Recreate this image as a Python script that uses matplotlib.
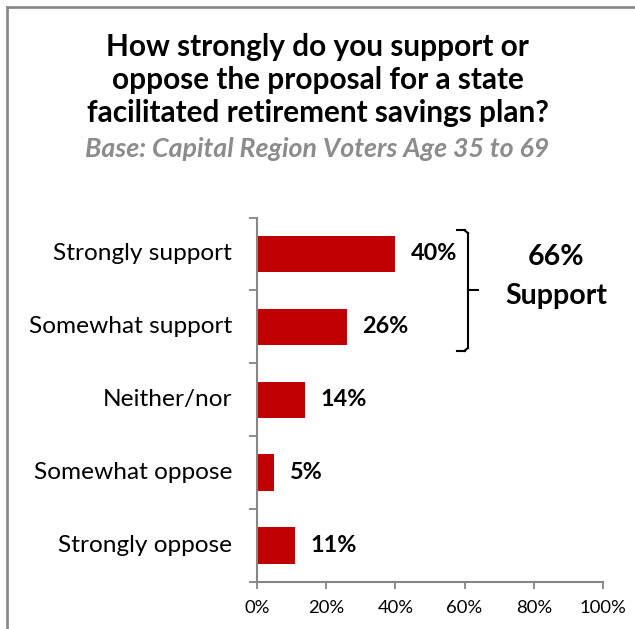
import matplotlib
matplotlib.use("Agg")
import matplotlib.pyplot as plt
from matplotlib.lines import Line2D

CATEGORIES = ["Strongly support", "Somewhat support", "Neither/nor",
              "Somewhat oppose", "Strongly oppose"]
VALUES = [40, 26, 14, 5, 11]
SUPPORT_TOTAL = VALUES[0] + VALUES[1]
X_TICKS = [0, 20, 40, 60, 80, 100]

TITLE = "How strongly do you support or\noppose the proposal for a state\nfacilitated retirement savings plan?"
SUBTITLE = "Base: Capital Region Voters Age 35 to 69"

BAR_COLOR = "#C00000"
AXIS_COLOR = "#868686"
FONT = "Lato"

plt.rcParams["font.family"] = [FONT, "DejaVu Sans"]

fig = plt.figure(figsize=(6.35, 6.29), dpi=100)
ax = fig.add_axes([257 / 635, 47 / 629, 346 / 635, 364.5 / 629])

y = list(range(len(CATEGORIES)))
ax.barh(y, VALUES, height=0.5, color=BAR_COLOR)
ax.set_xlim(0, 100)
ax.set_ylim(len(CATEGORIES) - 0.5, -0.5)

# value labels right of each bar
for yi, v in zip(y, VALUES):
    ax.annotate(f"{v}%", (v, yi), xytext=(11, 0), textcoords="offset points",
                ha="left", va="center", fontsize=16.8, fontweight="bold")

# category labels centred on bars, ticks on category boundaries
ax.set_yticks([i - 0.5 for i in range(len(CATEGORIES) + 1)])
ax.set_yticklabels([])
ax.tick_params(axis="y", length=6, color=AXIS_COLOR, width=1.3)
for yi, name in zip(y, CATEGORIES):
    ax.annotate(name, (0, yi), xytext=(-18, 0), textcoords="offset points",
                ha="right", va="center", fontsize=17.6)

ax.set_xticks(X_TICKS)
ax.set_xticklabels([f"{t}%" for t in X_TICKS], fontsize=13.3)
ax.tick_params(axis="x", length=5, color=AXIS_COLOR, width=1.3, pad=8)

for side in ["top", "right"]:
    ax.spines[side].set_visible(False)
for side in ["left", "bottom"]:
    ax.spines[side].set_color(AXIS_COLOR)
    ax.spines[side].set_linewidth(1.5)

# bracket around the two support bars
bx0, bx1, bx2 = 457 / 635, 468 / 635, 478 / 635
by_top, by_bot, by_mid = 1 - 230 / 629, 1 - 351 / 629, 1 - 290 / 629
bracket = [
    ([bx0, bx1 - 0.004], [by_top, by_top]),
    ([bx1, bx1], [by_top - 0.005, by_bot + 0.005]),
    ([bx0, bx1 - 0.004], [by_bot, by_bot]),
    ([bx1, bx2], [by_mid, by_mid]),
]
for xs, ys in bracket:
    fig.add_artist(Line2D(xs, ys, color="black", lw=1.5, transform=fig.transFigure))
for xs, ys in [([bx1 - 0.006, bx1], [by_top, by_top - 0.005]),
               ([bx1 - 0.006, bx1], [by_bot, by_bot + 0.005])]:
    fig.add_artist(Line2D(xs, ys, color="black", lw=1.5, transform=fig.transFigure))

fig.text(556 / 635, 1 - 257 / 629, f"{SUPPORT_TOTAL}%", ha="center", va="center",
         fontsize=20.5, fontweight="bold")
fig.text(556 / 635, 1 - 296 / 629, "Support", ha="center", va="center",
         fontsize=20.5, fontweight="bold")

fig.text(0.5, 1 - 80 / 629, TITLE, ha="center", va="center", fontsize=21.4,
         fontweight="bold", linespacing=1.2)
fig.text(0.5, 1 - 149 / 629, SUBTITLE, ha="center", va="center", fontsize=19.3,
         fontweight="bold", style="italic", color="#8C8C8C")

# frame lines along top and left edges
fig.add_artist(Line2D([7 / 635, 1], [1 - 7 / 629, 1 - 7 / 629], color="#8C8C8C",
                      lw=2, transform=fig.transFigure))
fig.add_artist(Line2D([7 / 635, 7 / 635], [0, 1 - 7 / 629], color="#8C8C8C",
                      lw=2, transform=fig.transFigure))

fig.savefig("out.png", dpi=100)
